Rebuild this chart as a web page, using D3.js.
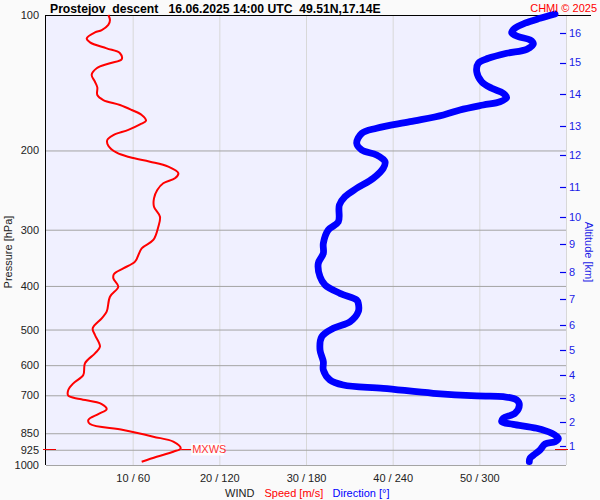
<!DOCTYPE html>
<html>
<head>
<meta charset="utf-8">
<script src="https://cdn.jsdelivr.net/npm/d3@7"></script>
<style>
  html, body { margin: 0; padding: 0; background: #fafafa; }
  svg { display: block; font-family: "Liberation Sans", Arial, sans-serif; }
</style>
</head>
<body>
<svg id="chart" width="600" height="500"></svg>
<script>
// ---- data ----
const titleText = "Prostejov  descent   16.06.2025 14:00 UTC  49.51N,17.14E";
const pressureTicks = [100, 200, 300, 400, 500, 600, 700, 850, 925, 1000];
const windTicks = [10, 20, 30, 40, 50];
const gridSpeeds = [10, 20, 30, 40, 50, 60];
const altitudeKm = [1, 2, 3, 4, 5, 6, 7, 8, 9, 10, 11, 12, 13, 14, 15, 16];
const altitudePressure = [907.4, 804.4, 711.5, 631.0, 555.2, 488.6, 428.3, 372.1, 323.2, 280.7, 240.7, 204.7, 176.2, 150.1, 127.6, 109.8];

const speedPressure = [100.0, 102.6, 105.2, 108.0, 109.3, 112.7, 115.0, 118.6, 121.6, 125.4, 128.0, 131.3, 135.9, 140.7, 144.8, 150.6, 154.5, 158.5, 162.6, 166.8, 171.8, 175.0, 180.0, 184.8, 189.6, 195.2, 202.3, 207.1, 211.8, 217.3, 224.8, 230.6, 236.6, 244.8, 255.5, 266.7, 280.7, 295.4, 316.2, 330.0, 353.3, 365.5, 376.3, 384.7, 401.6, 422.7, 456.3, 472.1, 496.9, 514.2, 545.9, 564.7, 594.3, 631.0, 658.4, 681.3, 701.5, 713.5, 731.9, 751.0, 770.4, 794.3, 810.8, 836.0, 865.2, 887.6, 918.2, 934.2, 958.5, 983.3];
const speedValues = [7.19, 7.38, 7.19, 6.43, 5.65, 4.70, 5.08, 7.00, 8.54, 8.73, 7.38, 5.85, 5.27, 5.65, 5.92, 5.92, 6.61, 8.54, 9.89, 11.04, 11.54, 10.85, 9.50, 7.77, 7.07, 7.19, 8.16, 9.69, 12.0, 14.11, 15.27, 14.88, 13.53, 12.84, 12.46, 12.46, 13.15, 12.96, 12.38, 11.04, 10.27, 8.92, 7.85, 7.77, 8.34, 7.38, 7.00, 6.43, 5.39, 5.65, 6.23, 5.65, 4.50, 4.30, 3.15, 2.57, 2.57, 3.92, 6.43, 7.00, 6.03, 4.88, 5.08, 8.92, 12.38, 14.69, 15.54, 14.69, 12.77, 11.04];

const dirPressure = [99.5, 101.7, 104.3, 107.0, 109.5, 111.7, 113.6, 116.0, 119.2, 121.6, 124.8, 128.0, 133.7, 140.7, 145.5, 149.3, 152.7, 155.9, 158.5, 162.6, 166.8, 172.6, 178.5, 183.2, 192.8, 199.5, 204.7, 211.8, 219.1, 230.6, 242.7, 253.4, 264.4, 288.0, 300.5, 321.6, 338.6, 356.3, 381.6, 398.1, 415.4, 429.9, 437.3, 456.4, 480.4, 496.9, 518.7, 555.2, 589.3, 615.0, 647.2, 664.0, 675.4, 692.8, 702.4, 704.8, 717.0, 735.6, 767.5, 787.3, 801.2, 812.0, 828.7, 850.3, 872.2, 887.6, 898.1, 926.2, 945.3, 966.3, 983.3];
const dirValues = [352.4, 342.0, 331.6, 324.7, 322.4, 327.0, 335.1, 337.4, 332.8, 318.9, 306.2, 299.3, 298.2, 301.6, 308.6, 316.6, 318.9, 314.3, 302.7, 286.6, 275.1, 252.0, 228.9, 218.6, 215.1, 218.6, 228.9, 234.7, 233.5, 226.6, 215.1, 207.0, 203.1, 202.4, 195.4, 192.0, 192.0, 188.5, 189.7, 193.2, 203.5, 215.1, 216.2, 216.2, 210.5, 198.9, 190.9, 189.7, 192.0, 192.0, 196.6, 205.8, 233.5, 268.1, 298.2, 316.6, 325.9, 327.7, 324.7, 316.6, 315.5, 323.5, 339.7, 350.1, 354.7, 352.4, 345.5, 342.0, 338.5, 335.1, 334.6];

const mxwsPressure = 921;
const mxwsSpeed = 15.6;

// ---- drawing ----
const svg = d3.select("#chart");
const pL = 46, pR = 566, pT = 15, pB = 465;

const y = d3.scaleLog().domain([100, 1000]).range([pT, pB]);
const xs = d3.scaleLinear().domain([0, 60]).range([pL, pR]);
const xd = d3.scaleLinear().domain([0, 360]).range([pL, pR]);

svg.append("rect").attr("width", 600).attr("height", 500).attr("fill", "#fafafa");
svg.append("rect").attr("x", pL).attr("y", pT).attr("width", pR - pL).attr("height", pB - pT).attr("fill", "#f0f0ff");

// vertical gridlines
const vg = svg.append("g").attr("transform", `translate(0,${pT})`)
  .call(d3.axisBottom(xs).tickValues(gridSpeeds).tickSize(pB - pT).tickFormat(""));
vg.select(".domain").remove();
vg.selectAll(".tick line").attr("stroke", "#d8d8d8");

// horizontal gridlines
const hg = svg.append("g").attr("transform", `translate(${pL},0)`)
  .call(d3.axisRight(y).tickValues(pressureTicks.filter(p => p > 100)).tickSize(pR - pL).tickFormat(""));
hg.select(".domain").remove();
hg.selectAll(".tick line").attr("stroke", "#a4a4a4");

// left axis labels
const la = svg.append("g").attr("transform", `translate(${pL},0)`)
  .call(d3.axisLeft(y).tickValues(pressureTicks).tickFormat(d3.format("d")).tickSize(0).tickPadding(7));
la.select(".domain").remove();
la.selectAll("text").attr("font-size", 11).attr("fill", "#222").attr("font-family", "Liberation Sans, Arial, sans-serif");

// bottom labels
const ba = svg.append("g").attr("transform", `translate(0,${pB})`)
  .call(d3.axisBottom(xs).tickValues(windTicks).tickFormat(d => `${d} / ${d * 6}`).tickSize(0).tickPadding(9));
ba.select(".domain").remove();
ba.selectAll("text").attr("font-size", 11).attr("fill", "#222").attr("font-family", "Liberation Sans, Arial, sans-serif");

// right altitude axis
const altData = altitudeKm.map((k, i) => ({ k, p: altitudePressure[i] }));
const ra = svg.append("g");
ra.selectAll("line").data(altData).join("line")
  .attr("x1", pR - 6).attr("x2", pR)
  .attr("y1", d => Math.round(y(d.p)) + 0.5).attr("y2", d => Math.round(y(d.p)) + 0.5)
  .attr("stroke", "#0000ee").attr("stroke-width", 1.2);
ra.selectAll("text").data(altData).join("text")
  .attr("x", pR + 3).attr("y", d => y(d.p)).attr("dy", "0.35em")
  .attr("font-size", 11).attr("fill", "#1a1ae6").text(d => d.k);

// axis lines
svg.append("line").attr("x1", pL - 0.5).attr("x2", pL - 0.5).attr("y1", pT).attr("y2", pB).attr("stroke", "#000");
svg.append("line").attr("x1", pL - 1).attr("x2", 591).attr("y1", pT + 0.5).attr("y2", pT + 0.5).attr("stroke", "#000");

// direction line
const dirData = dirPressure.map((p, i) => ({ p, v: dirValues[i] }));
svg.append("path").datum(dirData)
  .attr("d", d3.line().x(d => xd(d.v)).y(d => y(d.p)).curve(d3.curveCatmullRom.alpha(0.5)))
  .attr("fill", "none").attr("stroke", "#0000ff").attr("stroke-width", 6.8)
  .attr("stroke-linejoin", "round").attr("stroke-linecap", "round");

// speed line
const spdData = speedPressure.map((p, i) => ({ p, v: speedValues[i] }));
svg.append("path").datum(spdData)
  .attr("d", d3.line().x(d => xs(d.v)).y(d => y(d.p)).curve(d3.curveCatmullRom.alpha(0.5)))
  .attr("fill", "none").attr("stroke", "#ff0000").attr("stroke-width", 2)
  .attr("stroke-linejoin", "round");

// MXWS markers
const my = Math.round(y(mxwsPressure)) + 0.5;
svg.append("line").attr("x1", pL - 3).attr("x2", pL + 10).attr("y1", my).attr("y2", my).attr("stroke", "#ee0000");
svg.append("line").attr("x1", pR - 11).attr("x2", pR + 2).attr("y1", my).attr("y2", my).attr("stroke", "#ee0000");
svg.append("line").attr("x1", xs(mxwsSpeed)).attr("x2", xs(mxwsSpeed) + 10).attr("y1", my).attr("y2", my).attr("stroke", "#ff0000");
svg.append("rect").attr("x", xs(mxwsSpeed) + 10).attr("y", my - 6).attr("width", 33).attr("height", 12).attr("fill", "#ffffff").attr("opacity", 0.85);
svg.append("text").attr("x", xs(mxwsSpeed) + 11).attr("y", my).attr("dy", "0.35em")
  .attr("font-size", 11).attr("fill", "#ff3333").text("MXWS");

// titles
svg.append("text").attr("x", 50).attr("y", 12.5).attr("font-size", 12.2).attr("font-weight", "bold")
  .attr("fill", "#000").style("white-space", "pre").text(titleText);
svg.append("text").attr("x", 597).attr("y", 12).attr("text-anchor", "end").attr("font-size", 11)
  .attr("fill", "#ff0000").text("CHMI © 2025");

svg.append("text").attr("transform", "translate(12,252) rotate(-90)").attr("text-anchor", "middle")
  .attr("font-size", 11).attr("fill", "#222").text("Pressure [hPa]");
svg.append("text").attr("transform", "translate(585,252) rotate(90)").attr("text-anchor", "middle")
  .attr("font-size", 11).attr("fill", "#1a1ae6").text("Altitude [km]");

const legend = svg.append("text").attr("y", 496.5).attr("font-size", 11);
legend.append("tspan").attr("x", 225).attr("fill", "#222").text("WIND");
legend.append("tspan").attr("x", 264.5).attr("fill", "#ff0000").text("Speed [m/s]");
legend.append("tspan").attr("x", 332.5).attr("fill", "#0000ff").text("Direction [°]");
</script>
</body>
</html>
